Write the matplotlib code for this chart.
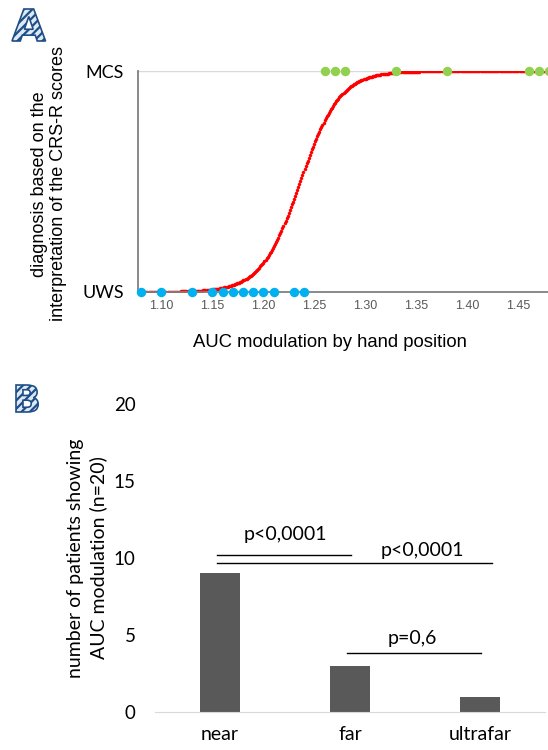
import numpy as np
import matplotlib
matplotlib.use("Agg")
import matplotlib.pyplot as plt
from matplotlib.textpath import TextPath
from matplotlib.patches import PathPatch
from matplotlib.font_manager import FontProperties
from matplotlib.transforms import Affine2D

# panel A: AUC modulation per patient, split by clinical diagnosis
uws_auc = [1.08, 1.10, 1.13, 1.15, 1.16, 1.17, 1.18, 1.19, 1.20, 1.21, 1.23, 1.24]
mcs_auc = [1.26, 1.27, 1.28, 1.33, 1.38, 1.46, 1.47, 1.48]
diag_labels = ["UWS", "MCS"]
# logistic fit (midpoint, slope)
fit_x0 = 1.236
fit_k = 52.0
a_ticks = [1.10, 1.15, 1.20, 1.25, 1.30, 1.35, 1.40, 1.45]

# panel B: patients showing modulation per hand position
positions = ["near", "far", "ultrafar"]
n_patients = [9, 3, 1]
b_ticks = [0, 5, 10, 15, 20]
# comparisons: (start, end, height, label)
comparisons = [
    (-0.025, 1.005, 10.2, "p<0,0001"),
    (-0.025, 2.09, 9.65, "p<0,0001"),
    (0.975, 2.01, 3.85, "p=0,6"),
]
label_pos = [(0.5, 11.5), (1.56, 10.5), (1.48, 4.8)]

calibri = "Lato"
arial = "Liberation Sans"

W, H = 548, 750
fig = plt.figure(figsize=(W / 100, H / 100), dpi=100, facecolor="white")


def panel_letter(letter, x, y, size):
    # hatched blue panel letter, x/y/size in pixels (y from top)
    tp = TextPath((0, 0), letter, size=1,
                  prop=FontProperties(family="DejaVu Sans", weight="bold"))
    ext = tp.get_extents()
    tr = (Affine2D().translate(-ext.x0, -ext.y0)
          .scale(size / ext.height / W, size / ext.height / H)
          .translate(x / W, 1 - (y + size) / H) + fig.transFigure)
    patch = PathPatch(tp, transform=tr, facecolor="#dde9f6",
                      edgecolor="#1f4e86", lw=1.2, hatch="////")
    fig.patches.append(patch)


plt.rcParams["hatch.color"] = "#2e67a8"
plt.rcParams["hatch.linewidth"] = 1.6

# ---- panel A
axA = fig.add_axes([138 / W, 1 - 292 / H, 410 / W, 221 / H])
xs = np.linspace(1.077, 1.479, 390)
ys = 1 / (1 + np.exp(-fit_k * (xs - fit_x0)))
axA.axhline(1, color="#d9d9d9", lw=1, zorder=0)
axA.plot(xs, ys, "o", color="#ff0000", ms=2.5, mew=0, zorder=2)
axA.plot(uws_auc, np.zeros(len(uws_auc)), "o", color="#00b0f0", ms=6.8,
         mew=0, clip_on=False, zorder=3)
axA.plot(mcs_auc, np.ones(len(mcs_auc)), "o", color="#92d050", ms=6.8,
         mew=0, clip_on=False, zorder=3)
axA.set_xlim(1.077, 1.479)
axA.set_ylim(0, 1)
axA.set_xticks(a_ticks)
axA.set_xticklabels([f"{t:.2f}" for t in a_ticks], family=arial,
                    fontsize=9, color="#595959")
axA.set_yticks([0, 1])
axA.set_yticklabels(diag_labels, family=calibri, fontsize=13)
axA.tick_params(axis="x", length=0, pad=6)
axA.tick_params(axis="y", length=0, pad=10)
for s in ["top", "right"]:
    axA.spines[s].set_visible(False)
for s in ["left", "bottom"]:
    axA.spines[s].set_color("#808080")
    axA.spines[s].set_linewidth(1.3)
axA.set_xlabel("AUC modulation by hand position", family=arial, fontsize=13.3)
axA.xaxis.set_label_coords(0.468, -0.19)
axA.set_ylabel("diagnosis based on the\ninterpretation of the CRS-R scores",
               family=arial, fontsize=13, linespacing=1.2)
axA.yaxis.set_label_coords(-0.172, 0.49)

# ---- panel B
axB = fig.add_axes([155 / W, 1 - 712 / H, 390 / W, 308 / H])
axB.bar(range(len(positions)), n_patients, width=0.31, color="#595959")
axB.set_xlim(-0.5, 2.5)
axB.set_ylim(0, 20)
axB.set_yticks(b_ticks)
axB.set_yticklabels([str(t) for t in b_ticks], family=calibri, fontsize=13.5)
axB.set_xticks(range(len(positions)))
axB.set_xticklabels(positions, family=calibri, fontsize=14)
axB.tick_params(axis="both", length=0)
axB.tick_params(axis="y", pad=14)
axB.tick_params(axis="x", pad=10)
for s in ["top", "right", "left"]:
    axB.spines[s].set_visible(False)
axB.spines["bottom"].set_color("#d9d9d9")
axB.set_ylabel("number of patients showing\nAUC modulation (n=20)",
               family=calibri, fontsize=14, linespacing=1.35)
axB.yaxis.set_label_coords(-0.123, 0.5)

for (x0, x1, h, lab), (tx, ty) in zip(comparisons, label_pos):
    axB.plot([x0, x1], [h, h], color="black", lw=1, clip_on=False)
    axB.text(tx, ty, lab, ha="center", va="center", family=calibri,
             fontsize=14)

panel_letter("A", 12, 9, 32)
panel_letter("B", 16, 385, 27)

fig.savefig("out.png", dpi=100, facecolor="white")
